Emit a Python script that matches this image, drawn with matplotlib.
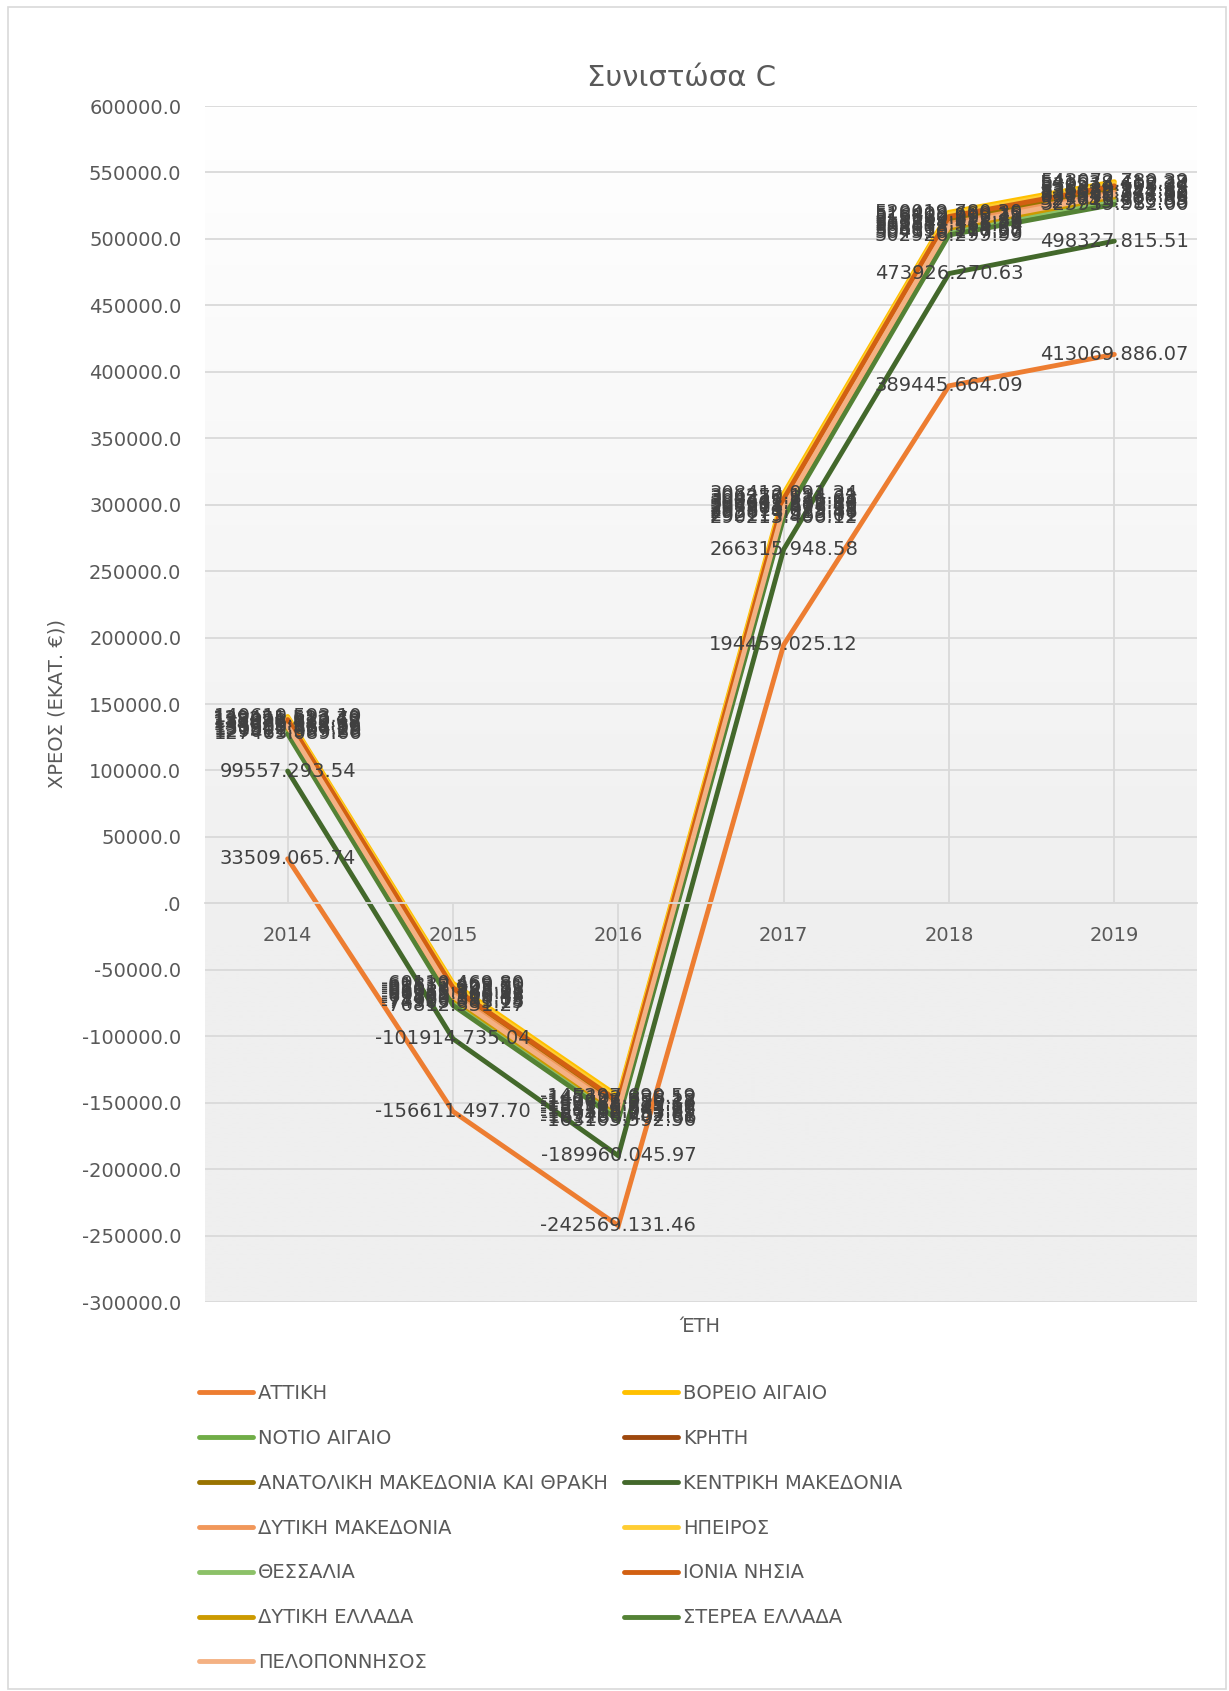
import matplotlib
matplotlib.use('Agg')
import matplotlib.pyplot as plt
import numpy as np
from matplotlib.ticker import FuncFormatter, FixedLocator
from matplotlib.patches import Rectangle

plt.rcParams['font.family'] = ['DejaVu Sans']

years = ['2014', '2015', '2016', '2017', '2018', '2019']

regions = ['ΑΤΤΙΚΗ', 'ΒΟΡΕΙΟ ΑΙΓΑΙΟ', 'ΝΟΤΙΟ ΑΙΓΑΙΟ', 'ΚΡΗΤΗ',
           'ΑΝΑΤΟΛΙΚΗ ΜΑΚΕΔΟΝΙΑ ΚΑΙ ΘΡΑΚΗ', 'ΚΕΝΤΡΙΚΗ ΜΑΚΕΔΟΝΙΑ',
           'ΔΥΤΙΚΗ ΜΑΚΕΔΟΝΙΑ', 'ΗΠΕΙΡΟΣ', 'ΘΕΣΣΑΛΙΑ', 'ΙΟΝΙΑ ΝΗΣΙΑ',
           'ΔΥΤΙΚΗ ΕΛΛΑΔΑ', 'ΣΤΕΡΕΑ ΕΛΛΑΔΑ', 'ΠΕΛΟΠΟΝΝΗΣΟΣ']

colors = ['#ED7D31', '#FFC000', '#70AD47', '#9E480E', '#997300', '#43682B',
          '#F1975A', '#FFCD33', '#8CC168', '#D26012', '#CC9A00', '#548235',
          '#F4B183']

attiki = [33509.06574, -156611.49770, -242569.13146, 194459.02512, 389445.66409, 413069.88607]
voreio_aigaio = [140610.59310, -60110.46980, -145297.69059, 308412.09134, 520019.78030, 543072.78039]
notio_aigaio = [129011.30928, -74905.08315, -161288.40786, 292119.93301, 504510.17720, 527745.21368]
kriti = [137098.83012, -65011.92573, -150745.08337, 302441.27604, 515160.39241, 538233.15599]
anat_mak_thraki = [135870.41268, -66630.14511, -152368.71260, 300602.58218, 513297.01186, 536680.72112]
kentriki_mak = [99557.29354, -101914.73504, -189960.04597, 266315.94858, 473926.27063, 498327.81551]
dytiki_mak = [134622.18537, -68155.36602, -154106.34518, 298918.60743, 511544.42870, 535022.34481]
ipeiros = [139421.52340, -61832.46950, -147102.33812, 306250.12421, 518402.69915, 541538.41227]
thessalia = [130500.45719, -73120.58103, -159406.75261, 293874.31346, 506133.21857, 529611.46635]
ionia_nisia = [138255.61273, -63517.20581, -149022.55618, 304377.81163, 516820.21078, 539914.60834]
dytiki_ellada = [131932.66408, -71460.21832, -157512.03395, 295611.02985, 508008.51463, 531540.05708]
sterea_ellada = [127463.08966, -76812.33127, -163105.59256, 290213.40612, 502926.29999, 525939.98200]
peloponnisos = [133300.01816, -69802.16645, -155788.94122, 297304.47391, 509812.36624, 533360.27190]

series = [attiki, voreio_aigaio, notio_aigaio, kriti, anat_mak_thraki, kentriki_mak,
          dytiki_mak, ipeiros, thessalia, ionia_nisia, dytiki_ellada, sterea_ellada,
          peloponnisos]

yticks = list(range(-300000, 600001, 50000))


def fmt_label(v):
    s = f"{abs(v):.5f}"
    ip, fp = s.split('.')
    out = f"{ip}.{fp[:3]}.{fp[3:]}"
    return ('-' if v < 0 else '') + out


def fmt_tick(v, pos):
    if v == 0:
        return '.0'
    return f"{v:.1f}"


W, H = 1229, 1691
fig = plt.figure(figsize=(W / 100, H / 100), dpi=100)
ax = fig.add_axes([205 / W, 1 - 1302 / H, (1197 - 205) / W, (1302 - 106) / H])

x = np.arange(len(years))

# gradient plot-area background
t = np.linspace(0, 1, 256)
g = 1.0 - (16 / 255) * np.clip(t / 0.7, 0, 1)
grad = np.dstack([g, g, g]).reshape(256, 1, 3)
ax.imshow(grad, extent=(-0.5, len(years) - 0.5, -300000, 600000), aspect='auto',
          zorder=0, origin='upper', interpolation='bilinear')
ax.set_xlim(-0.5, len(years) - 0.5)
ax.set_ylim(-300000, 600000)

ax.yaxis.set_major_locator(FixedLocator(yticks))
ax.yaxis.set_major_formatter(FuncFormatter(fmt_tick))
ax.yaxis.grid(True, color='#d9d9d9', lw=1.3)
ax.set_axisbelow(True)

for s in ['left', 'right', 'top']:
    ax.spines[s].set_visible(False)
ax.spines['bottom'].set_position(('data', 0))
ax.spines['bottom'].set_color('#d9d9d9')
ax.spines['bottom'].set_linewidth(1.3)

ax.set_xticks(x)
ax.set_xticklabels(years)
ax.tick_params(axis='x', length=0, pad=16, labelsize=14, labelcolor='#595959')
ax.tick_params(axis='y', length=0, pad=17, labelsize=14, labelcolor='#595959')

# drop lines
arr = np.array(series)
lo = np.minimum(0, arr.min(axis=0))
hi = np.maximum(0, arr.max(axis=0))
ax.vlines(x, lo, hi, colors='#d9d9d9', lw=1.3, zorder=1)

handles = []
for name, vals, c in zip(regions, series, colors):
    ln, = ax.plot(x, vals, color=c, lw=3.5, solid_capstyle='round',
                  solid_joinstyle='miter', zorder=2, label=name)
    handles.append(ln)

for vals in series:
    for xi, v in zip(x, vals):
        ax.text(xi, v, fmt_label(v), ha='center', va='center', fontsize=14,
                color='#404040', zorder=5)

fig.text(682 / W, 1 - 78 / H, 'Συνιστώσα C', fontsize=21, color='#595959',
         ha='center', va='center')
fig.text(57 / W, 1 - 704 / H, 'ΧΡΕΟΣ (ΕΚΑΤ. €))', fontsize=14, color='#595959',
         rotation=90, ha='center', va='center')
fig.text(700 / W, 1 - 1326 / H, 'ΈΤΗ', fontsize=14, color='#595959',
         ha='center', va='center')

order = [0, 2, 4, 6, 8, 10, 12, 1, 3, 5, 7, 9, 11]
leg = fig.legend([handles[i] for i in order], [regions[i] for i in order],
                 loc='upper left', bbox_to_anchor=(199 / W, 1 - 1384 / H),
                 ncol=2, frameon=False, fontsize=14, handlelength=2.8,
                 handletextpad=0.25, columnspacing=0.8, labelspacing=1.33,
                 borderpad=0, borderaxespad=0)
for txt in leg.get_texts():
    txt.set_color('#595959')

fig.patches.append(Rectangle((8 / W, 2 / H), (1226 - 8) / W, (1684 - 2) / H,
                             transform=fig.transFigure, fill=False,
                             ec='#d9d9d9', lw=1.2))

fig.savefig('out.png', dpi=100)
